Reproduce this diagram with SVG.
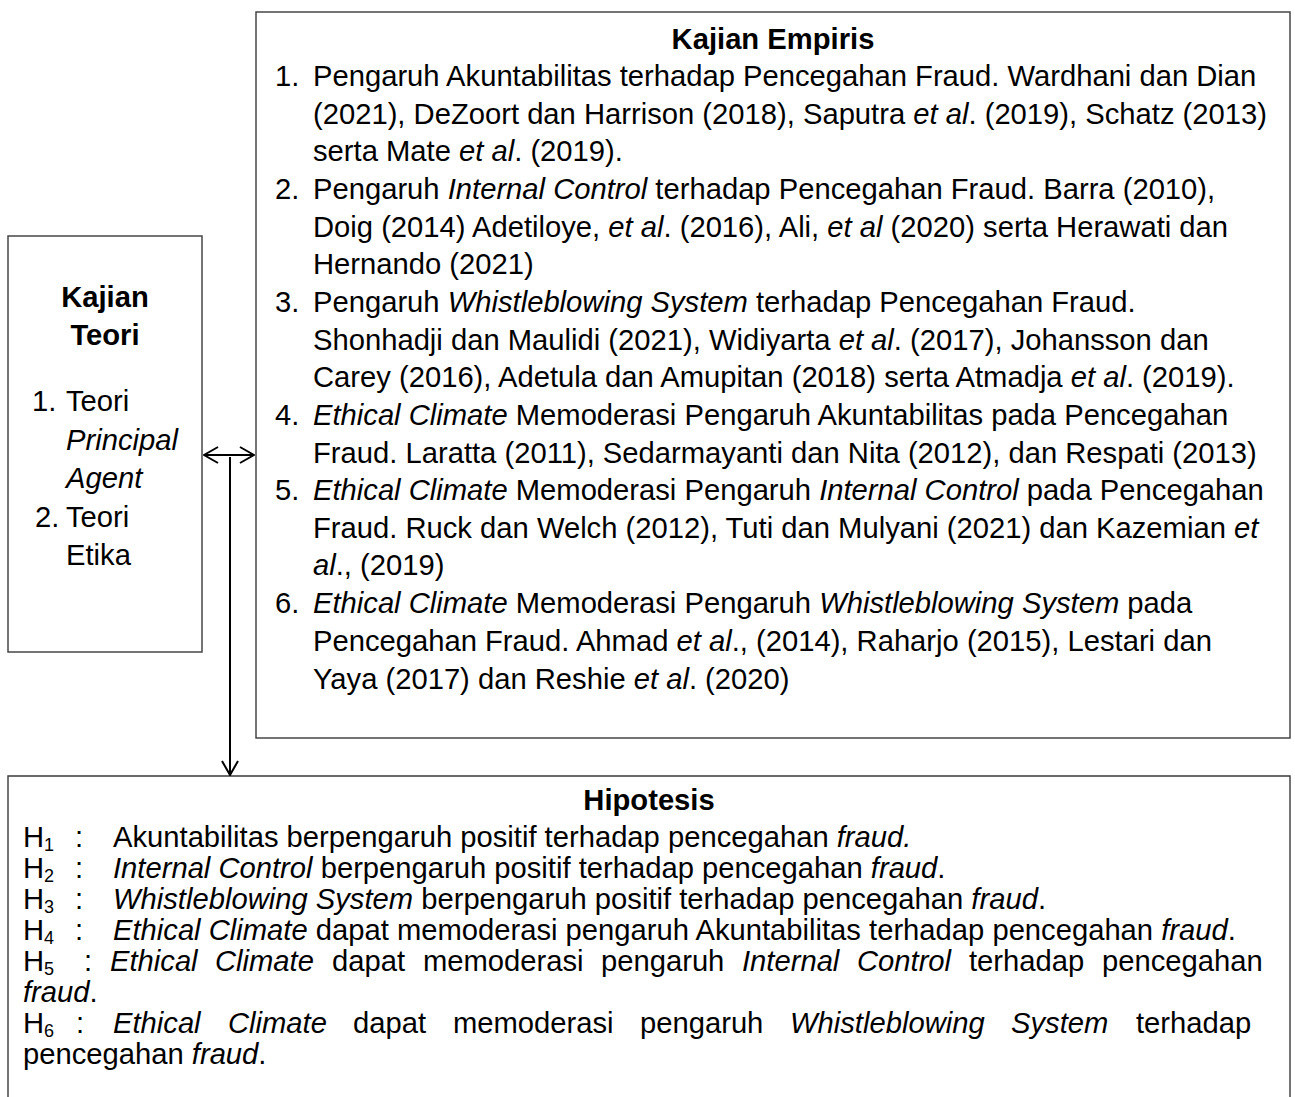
<svg xmlns="http://www.w3.org/2000/svg" width="1295" height="1097" viewBox="0 0 1295 1097">
<style>
text{font-family:"Liberation Sans",Arial,sans-serif;font-size:29.2px;fill:#000}
.b{font-weight:bold}
.i{font-style:italic}
.box{fill:#fff;stroke:#3a3a3a;stroke-width:1.4}
.sub{font-size:18px}
.con{stroke:#000;stroke-width:2;fill:none}
</style>
<defs>
<marker id="ah" viewBox="0 0 16 18" refX="15" refY="9" markerWidth="16" markerHeight="18" markerUnits="userSpaceOnUse" orient="auto-start-reverse">
<path d="M1,1 L15,9 L1,17" fill="none" stroke="#000" stroke-width="2"/>
</marker>
</defs>
<rect width="1295" height="1097" fill="#fff"/>

<g id="kajian-teori">
<rect class="box" x="8" y="236" width="194" height="416"/>
<text class="b" x="105" y="307" text-anchor="middle">Kajian</text>
<text class="b" x="105" y="345" text-anchor="middle">Teori</text>
<text x="32" y="411">1.</text><text x="66" y="411">Teori</text>
<text class="i" x="66" y="450">Principal</text>
<text class="i" x="66" y="488">Agent</text>
<text x="35" y="527">2.</text><text x="66" y="527">Teori</text>
<text x="66" y="565">Etika</text>
</g>

<g id="kajian-empiris">
<rect class="box" x="256" y="12" width="1034" height="726"/>
<text class="b" x="773" y="49" text-anchor="middle">Kajian Empiris</text>
<text x="275" y="86">1.</text>
<text x="313" y="86">Pengaruh Akuntabilitas terhadap Pencegahan Fraud. Wardhani dan Dian</text>
<text x="313" y="124">(2021), DeZoort dan Harrison (2018), Saputra <tspan class="i">et al</tspan>. (2019), Schatz (2013)</text>
<text x="313" y="161">serta Mate <tspan class="i">et al</tspan>. (2019).</text>
<text x="275" y="199">2.</text>
<text x="313" y="199">Pengaruh <tspan class="i">Internal Control</tspan> terhadap Pencegahan Fraud. Barra (2010),</text>
<text x="313" y="237">Doig (2014) Adetiloye, <tspan class="i">et al</tspan>. (2016), Ali, <tspan class="i">et al</tspan> (2020) serta Herawati dan</text>
<text x="313" y="274">Hernando (2021)</text>
<text x="275" y="312">3.</text>
<text x="313" y="312">Pengaruh <tspan class="i">Whistleblowing System</tspan> terhadap Pencegahan Fraud.</text>
<text x="313" y="350">Shonhadji dan Maulidi (2021), Widiyarta <tspan class="i">et al</tspan>. (2017), Johansson dan</text>
<text x="313" y="387">Carey (2016), Adetula dan Amupitan (2018) serta Atmadja <tspan class="i">et al</tspan>. (2019).</text>
<text x="275" y="425">4.</text>
<text x="313" y="425"><tspan class="i">Ethical Climate</tspan> Memoderasi Pengaruh Akuntabilitas pada Pencegahan</text>
<text x="313" y="463">Fraud. Laratta (2011), Sedarmayanti dan Nita (2012), dan Respati (2013)</text>
<text x="275" y="500">5.</text>
<text x="313" y="500"><tspan class="i">Ethical Climate</tspan> Memoderasi Pengaruh <tspan class="i">Internal Control</tspan> pada Pencegahan</text>
<text x="313" y="538">Fraud. Ruck dan Welch (2012), Tuti dan Mulyani (2021) dan Kazemian <tspan class="i">et</tspan></text>
<text x="313" y="575"><tspan class="i">al</tspan>., (2019)</text>
<text x="275" y="613">6.</text>
<text x="313" y="613"><tspan class="i">Ethical Climate</tspan> Memoderasi Pengaruh <tspan class="i">Whistleblowing System</tspan> pada</text>
<text x="313" y="651">Pencegahan Fraud. Ahmad <tspan class="i">et al</tspan>., (2014), Raharjo (2015), Lestari dan</text>
<text x="313" y="689">Yaya (2017) dan Reshie <tspan class="i">et al</tspan>. (2020)</text>
</g>

<g id="hipotesis">
<path class="box" d="M8,1100 L8,776 L1290,776 L1290,1100"/>
<text class="b" x="649" y="810" text-anchor="middle">Hipotesis</text>
<text x="23" y="847">H<tspan class="sub" dy="4">1</tspan></text><text x="75" y="847">:</text>
<text x="113" y="847">Akuntabilitas berpengaruh positif terhadap pencegahan <tspan class="i">fraud.</tspan></text>
<text x="23" y="878">H<tspan class="sub" dy="4">2</tspan></text><text x="75" y="878">:</text>
<text x="113" y="878"><tspan class="i">Internal Control</tspan> berpengaruh positif terhadap pencegahan <tspan class="i">fraud</tspan>.</text>
<text x="23" y="909">H<tspan class="sub" dy="4">3</tspan></text><text x="75" y="909">:</text>
<text x="113" y="909"><tspan class="i">Whistleblowing System</tspan> berpengaruh positif terhadap pencegahan <tspan class="i">fraud</tspan>.</text>
<text x="23" y="940">H<tspan class="sub" dy="4">4</tspan></text><text x="75" y="940">:</text>
<text x="113" y="940"><tspan class="i">Ethical Climate</tspan> dapat memoderasi pengaruh Akuntabilitas terhadap pencegahan <tspan class="i">fraud</tspan>.</text>
<text x="23" y="971">H<tspan class="sub" dy="4">5</tspan></text><text x="84" y="971">:</text>
<text y="971"><tspan class="i" x="110">Ethical</tspan><tspan class="i" x="215">Climate</tspan><tspan x="332">dapat</tspan><tspan x="423">memoderasi</tspan><tspan x="601">pengaruh</tspan><tspan class="i" x="742">Internal</tspan><tspan class="i" x="857">Control</tspan><tspan x="969">terhadap</tspan><tspan x="1102">pencegahan</tspan></text>
<text x="23" y="1002"><tspan class="i">fraud</tspan>.</text>
<text x="23" y="1033">H<tspan class="sub" dy="4">6</tspan></text><text x="76" y="1033">:</text>
<text y="1033"><tspan class="i" x="113">Ethical</tspan><tspan class="i" x="228">Climate</tspan><tspan x="353">dapat</tspan><tspan x="453">memoderasi</tspan><tspan x="640">pengaruh</tspan><tspan class="i" x="790">Whistleblowing</tspan><tspan class="i" x="1011">System</tspan><tspan x="1136">terhadap</tspan></text>
<text x="23" y="1064">pencegahan <tspan class="i">fraud</tspan>.</text>
</g>

<g id="connectors">
<line class="con" x1="204" y1="455" x2="254" y2="455" marker-start="url(#ah)" marker-end="url(#ah)"/>
<line class="con" x1="230" y1="457" x2="230" y2="775" marker-end="url(#ah)"/>
</g>
</svg>
